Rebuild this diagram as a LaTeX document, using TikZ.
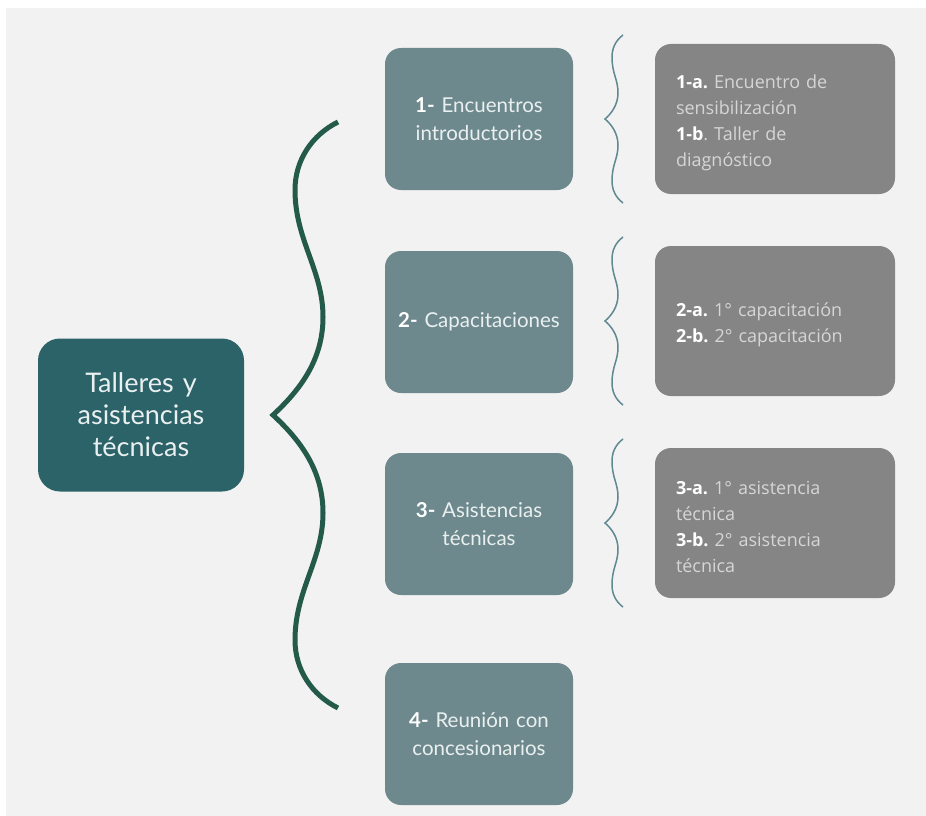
\documentclass[tikz,border=0pt]{standalone}
\usepackage{fontspec}
\setmainfont{Open Sans}
\newfontfamily\boxfont{Lato}
\definecolor{bgc}{HTML}{F2F2F2}
\definecolor{mainc}{HTML}{2B6369}
\definecolor{tealc}{HTML}{6E898D}
\definecolor{grayc}{HTML}{858585}
\definecolor{greenc}{HTML}{235A4A}
\definecolor{bracec}{HTML}{5F8891}
\definecolor{lighttxt}{HTML}{D6D6D6}
\definecolor{tealtxt}{HTML}{EAF0F0}
\tikzset{
  mainbox/.style={fill=mainc, rounded corners=22pt, minimum width=206pt, minimum height=153pt,
    text width=200pt, align=center, text=tealtxt, inner sep=0pt,
    font=\boxfont\fontsize{27}{32}\selectfont},
  stagebox/.style={fill=tealc, rounded corners=16pt, minimum width=188pt, minimum height=142pt,
    text width=186pt, align=center, text=tealtxt, inner sep=0pt,
    font=\boxfont\fontsize{20.5}{28.5}\selectfont},
  detailbox/.style={fill=grayc, rounded corners=16pt, minimum width=240pt, minimum height=150pt,
    inner sep=0pt},
  detailtext/.style={text width=200pt, align=left, text=lighttxt, inner sep=0pt,
    font=\frenchspacing\fontsize{18}{26}\selectfont},
  bigbrace/.style={draw=greenc, line width=5pt},
  smallbrace/.style={draw=bracec, line width=1.5pt}
}
\newcommand\bw[1]{\textbf{\color{white}#1}}
\newcommand\tw[1]{\textbf{\color{white}#1}}
\newcommand\mysmallbrace[1]{%
  \draw[smallbrace] (#1) ++(18,-84) .. controls +(-8,6) and +(0,-8) .. ++(-11,22)
    .. controls +(0,17) and +(0,-14) .. ++(6,36)
    .. controls +(0,12) and +(6,-5) .. ++(-13,26)
    .. controls +(6,5) and +(0,-12) .. ++(13,26)
    .. controls +(0,14) and +(0,-17) .. ++(-6,36)
    .. controls +(0,8) and +(-8,-6) .. ++(11,22);}
\begin{document}
\begin{tikzpicture}[x=1pt,y=-1pt]
\fill[white] (0,0) rectangle (926,816);
\useasboundingbox (0,0) rectangle (926,816);
\fill[bgc] (6,8) rectangle (926,816);

\node[mainbox] (main) at (141,415) {Talleres y\\asistencias\\técnicas};

\node[stagebox] (s1) at (479,119) {\tw{1-} Encuentros\\introductorios};
\node[stagebox] (s2) at (479,322) {\tw{2-} Capacitaciones};
\node[stagebox] (s3) at (479,524) {\tw{3-} Asistencias\\técnicas};
\node[stagebox] (s4) at (479,734) {\tw{4-} Reunión con\\concesionarios};

\node[detailbox] (d1) at (775,119) {};
\node[detailbox] (d2) at (775,321) {};
\node[detailbox] (d3) at (775,523) {};
\node[detailtext] (d1t) at (776,123) {\bw{1-a.} Encuentro de\\sensibilización\\\bw{1-b}. Taller de\\diagnóstico};
\node[detailtext] (d2t) at (776,325) {\bw{2-a.} 1° capacitación\\\bw{2-b.} 2° capacitación};
\node[detailtext] (d3t) at (776,527) {\bw{3-a.} 1° asistencia\\técnica\\\bw{3-b.} 2° asistencia\\técnica};

\coordinate (btop) at (338,122);
\coordinate (btip) at (273,415);
\coordinate (bbot) at (338,708);
\draw[bigbrace] (btop) .. controls (312,135) and (295,160) .. (295,190)
  .. controls (295,240) and (323,270) .. (323,317)
  .. controls (323,360) and (300,390) .. (btip)
  .. controls (300,440) and (323,470) .. (323,513)
  .. controls (323,560) and (295,590) .. (295,640)
  .. controls (295,670) and (312,695) .. (bbot);

\coordinate (t1) at (605,119);
\coordinate (t2) at (605,321);
\coordinate (t3) at (605,523);
\mysmallbrace{t1}
\mysmallbrace{t2}
\mysmallbrace{t3}
\end{tikzpicture}
\end{document}
